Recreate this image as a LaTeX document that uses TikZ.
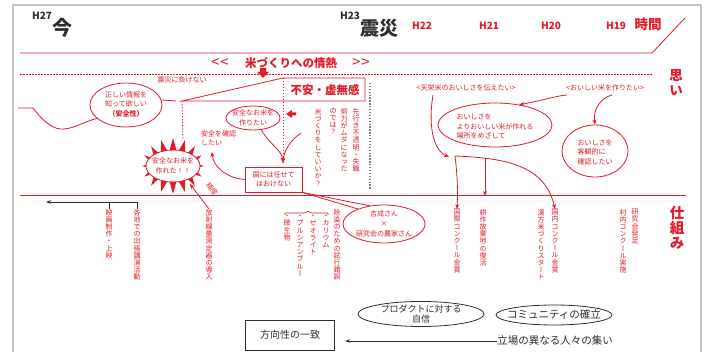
\documentclass[tikz,border=0pt]{standalone}
\usepackage{fontspec}
\setmainfont{Noto Sans CJK JP}
\newfontfamily\vfont{Noto Sans CJK JP}[RawFeature=+vert]
\usetikzlibrary{arrows.meta,shapes.geometric}
\definecolor{myred}{RGB}{228,26,40}
\definecolor{myblk}{RGB}{45,45,45}
\definecolor{frm}{RGB}{195,195,195}
\makeatletter
\def\vst#1{\vst@a#1\@nil}
\def\vst@a#1#2\@nil{#1\ifx\relax#2\relax\expandafter\@gobble\else\expandafter\@firstofone\fi{\\\vst@a#2\@nil}}
\makeatother
\lineskiplimit=-5pt
\tikzset{
  redl/.style={draw=myred, line width=0.8pt},
  reddot/.style={draw=myred, line width=0.8pt, dash pattern=on 1.5pt off 1.5pt},
  arr/.style={redl, -{Stealth[length=5pt,width=4pt]}},
  barr/.style={draw=myblk, line width=0.7pt, -{Stealth[length=5pt,width=3.5pt]}},
  rtxt/.style={text=myred, font={\fontsize{7}{9.5}\selectfont}, inner sep=0pt},
  vtxt/.style={text=myred, font={\vfont\fontsize{7}{7.2}\selectfont}, align=center, inner sep=0pt, anchor=north},
  rell/.style={ellipse, draw=myred, line width=0.8pt, inner sep=0pt},
  bell/.style={ellipse, draw=myblk, line width=0.8pt, inner sep=0pt},
  hred/.style={text=myred, font={\bfseries\fontsize{10}{10}\selectfont}, inner sep=0pt},
  hblk/.style={text=myblk, font={\bfseries\fontsize{10}{10}\selectfont}, inner sep=0pt},
  bigred/.style={text=myred, font={\vfont\bfseries\fontsize{13.5}{15}\selectfont}, align=center, inner sep=0pt, anchor=north},
  headred/.style={text=myred, font={\bfseries\fontsize{11.5}{12}\selectfont}, inner sep=0pt},
  quot/.style={text=myred, font={\fontsize{15}{15}\selectfont}, inner sep=0pt},
}
\begin{document}
\begin{tikzpicture}[x=1pt,y=-1pt]
\useasboundingbox (0,0) rectangle (707,352);
\fill[white] (0,0) rectangle (707,352);
\draw[frm, line width=1.5pt] (13,353) -- (13,5) -- (701,5) -- (701,353);

% ---------- time header
\node[hblk] (h27) at (42,16) {H27};
\node[text=myblk, font={\bfseries\fontsize{20}{20}\selectfont}, inner sep=0pt] (ima) at (62,28) {今};
\node[hblk] (h23) at (350,16) {H23};
\node[text=myblk, font={\bfseries\fontsize{19}{19}\selectfont}, inner sep=0pt] (shinsai) at (379,28) {震災};
\node[hred] (h22) at (422,26) {H22};
\node[hred] (h21) at (489,26) {H21};
\node[hred] (h20) at (551,26) {H20};
\node[hred] (h19) at (616,26) {H19};
\node[text=myred, font={\bfseries\fontsize{13.5}{14}\selectfont}, inner sep=0pt] (jikan) at (648,24) {時間};
\coordinate (tl0) at (20,53);
\coordinate (tl1) at (652,53);
\coordinate (tl2) at (685,18);
\draw[redl] (tl0) -- (tl1) -- (tl2);

% ---------- omoi section
\node[quot] (lq) at (220,63) {<\kern1pt<};
\node[headred] (jonetsu) at (291,63) {米づくりへの情熱};
\node[quot] (rq) at (361,63) {>\kern1pt>};
\coordinate (dl0) at (20,74);
\coordinate (dl1) at (652,74);
\draw[reddot] (dl0) -- (dl1);
\node[bigred] (omoi) at (676,69) {\vst{思い}};

% left wave + ellipse
\node[rell, minimum width=72, minimum height=44] (e1) at (126,105) {};
\node[rtxt, align=center] (e1t) at (126,104) {正しい情報を\\知って欲しい\\{\bfseries （安全性）}};
\coordinate (w0) at (18,108);
\coordinate (w1) at (33,108);
\draw[redl] (w0) -- (w1) .. controls (45,124) and (55,130) .. (64,129) .. controls (76,128) and (85,121) .. (e1.205);
\coordinate (d1) at (176,101);
\draw[redl] (e1.8) -- (d1);

% tab
\coordinate (t1) at (182,101);
\coordinate (t2) at (283,78);
\coordinate (t3) at (365,78);
\coordinate (t4) at (365,101);
\draw[redl] (t1) -- (t2) -- (t3) -- (t4) -- cycle;
\node[rtxt] (makenai) at (182,80) {震災に負けない};
\node[headred] (fuan) at (325,90) {不安・虚無感};
\fill[myred] (260,68) -- (266,68) -- (266,72) -- (269,72) -- (263,78) -- (257,72) -- (260,72) -- cycle;
\fill[myred] (296,112.5) -- (292,112.5) -- (292,110) -- (286,114) -- (292,118) -- (292,115.5) -- (296,115.5) -- cycle;

% dotted verticals
\coordinate (bt) at (183,140);
\coordinate (conv) at (283,163);
\draw[reddot] (t1) -- (bt);
\draw[reddot] (t2) -- (conv);
\coordinate (g0) at (370,83);
\coordinate (g1) at (370,189);
\draw[draw=gray, line width=1.3pt, dash pattern=on 1.3pt off 1.6pt] (g0) -- (g1);

% anzen ellipse
\node[rell, minimum width=54, minimum height=24] (e2) at (253,118) {};
\node[rtxt, align=center] (e2t) at (e2) {安全なお米を\\作りたい};
\node[rtxt, align=left, anchor=west] (kak) at (201,138) {安全を確認\\したい};
\node[redl, rtxt, align=center, minimum width=57, minimum height=25] (kuni) at (273.5,179.5) {国には任せて\\はおけない};
\coordinate (rc) at (301,133);
\draw[arr] (e2.-55) .. controls (270,145) and (282,150) .. (conv);
\draw[arr] (rc) .. controls (291,140) and (284,150) .. (conv);
\coordinate (kt) at (212,152);
\draw[arr] (kuni.west) .. controls (226,178) and (213,166) .. (kt);

% vertical thoughts
\node[vtxt] (v1) at (356,108) {\vst{先行き不透明・失職}};
\node[vtxt] (v2) at (344,108) {\vst{努力がムダになった}};
\node[vtxt] (v3) at (333,108) {\vst{のでは？}};
\node[vtxt] (v4) at (318,108) {\vst{米づくりをしていいか？}};

% starburst
\fill[myred] (204,166) \foreach \k in {0,...,15}{ -- ({173+31*cos(\k*22.5)},{166+28*sin(\k*22.5)}) -- ({173+22*cos(\k*22.5+11.25)},{166+13*sin(\k*22.5+11.25)}) } -- cycle;
\node[rell, fill=white, minimum width=54, minimum height=32] (burst) at (173,166) {};
\node[rtxt, align=center] (burstt) at (burst) {安全なお米を\\作れた！！};

% right thoughts
\node[rtxt] (tenei) at (466,88) {<天栄米のおいしさを伝えたい>};
\node[rtxt] (oishii) at (605,88) {<おいしい米を作りたい>};
\node[rell, minimum width=114, minimum height=44] (e3) at (495,125) {};
\node[rtxt, align=left] (e3t) at (495,127) {おいしさを\\よりおいしい米が作れる\\場所をめざして};
\node[rell, minimum width=66, minimum height=52] (e4) at (595,151) {};
\node[rtxt, align=left] (e4t) at (595,152) {おいしさを\\客観的に\\確認したい};
\coordinate (o1) at (567,95);
\coordinate (o2) at (612,95);
\coordinate (te1) at (433,95);
\coordinate (a3t) at (449,157);
\draw[arr] (o1) .. controls (555,96) and (545,100) .. (e3.40);
\draw[arr] (o2) .. controls (600,98) and (593,110) .. (e4.north);
\draw[arr] (te1) .. controls (428,125) and (433,150) .. (a3t);

% middle line
\coordinate (ml0) at (20,195);
\coordinate (ml1) at (686,195);
\draw[redl] (ml0) -- (ml1);
\node[bigred, font={\vfont\bfseries\fontsize{14.5}{15}\selectfont}] (shikumi) at (677,206) {\vst{仕組み}};

% branching arrows
\coordinate (b0) at (455,156);
\coordinate (b1) at (485,158);
\coordinate (b2) at (485,196);
\node[vtxt] (k1) at (457,209) {\vst{国際コンクール金賞}};
\node[vtxt] (k2) at (483,209) {\vst{耕作放棄地の復活}};
\node[vtxt] (k3) at (555,209) {\vst{国内コンクール金賞}};
\node[vtxt] (k4) at (541,209) {\vst{漢方米づくりスタート}};
\node[vtxt] (k5) at (635,209) {\vst{研究会発足}};
\node[vtxt] (k6) at (623,209) {\vst{村内コンクール実施}};
\draw[arr] (b0) .. controls (457,172) and (458,188) .. (k1.north);
\draw[arr] (b0) .. controls (505,158) and (545,165) .. (k3.north);
\draw[arr] (b1) -- (b2);

% lower left
\node[vtxt] (m1) at (109,209) {\vst{映画制作・上映}};
\node[vtxt] (m2) at (137,209) {\vst{各地での出張講演活動}};
\node[vtxt] (m3) at (209,209) {\vst{放射線量測定器の導入}};
\coordinate (la) at (46,202);
\coordinate (lb) at (137,202);
\coordinate (lc) at (109,202);
\draw[barr] (m2.north) -- (lb) -- (la);
\draw[draw=myblk, line width=0.7pt] (m1.north) -- (lc);
\coordinate (bs) at (190,184);
\draw[arr] (m3.north) -- (bs);
\node[rtxt, rotate=-53] (seido) at (212,189) {精度};

% josen
\node[vtxt] (j0) at (337,209) {\vst{除染のための試行錯誤}};
\node[vtxt] (j1) at (326,215) {\vst{・カリウム}};
\node[vtxt] (j2) at (313,215) {\vst{・ゼオライト}};
\node[vtxt] (j3) at (300,215) {\vst{・プルシアンブルー}};
\node[vtxt] (j4) at (287,215) {\vst{・微生物}};
\coordinate (br0) at (285,215);
\draw[draw=myred, line width=0.6pt] (br0) -- ++(0,-2) -- (305,213) -- (308,211) -- (311,213) -- (328,213) -- ++(0,2);

% bubble
\node[rell, minimum width=82, minimum height=38] (bub) at (384,224) {};
\draw[redl] (kuni.south east) -- (bub.150);
\draw[redl] (kuni.south east) -- (bub.128);
\node[rtxt, align=center, font={\fontsize{7}{10}\selectfont}] (bubt) at (bub) {吉成さん\\×\\研究会の農家さん};

% bottom
\node[bell, minimum width=126, minimum height=25] (prod) at (421,314) {};
\node[text=myblk, font={\fontsize{9}{9.5}\selectfont}, align=center, inner sep=0pt] (prodt) at (prod) {プロダクトに対する\\自信};
\node[bell, minimum width=116, minimum height=20] (comm) at (554,315) {};
\node[text=myblk, font={\fontsize{10.5}{11}\selectfont}, inner sep=0pt] (commt) at (comm) {コミュニティの確立};
\node[draw=myblk, line width=0.8pt, minimum width=89, minimum height=30, text=myblk, font={\fontsize{10}{11}\selectfont}] (hou) at (290,335) {方向性の一致};
\node[text=myblk, font={\fontsize{10.5}{11}\selectfont}, inner sep=0pt] (tachi) at (555,341) {立場の異なる人々の集い};
\coordinate (tip) at (345,341);
\draw[barr] (tachi.west) -- (tip);
\end{tikzpicture}
\end{document}
